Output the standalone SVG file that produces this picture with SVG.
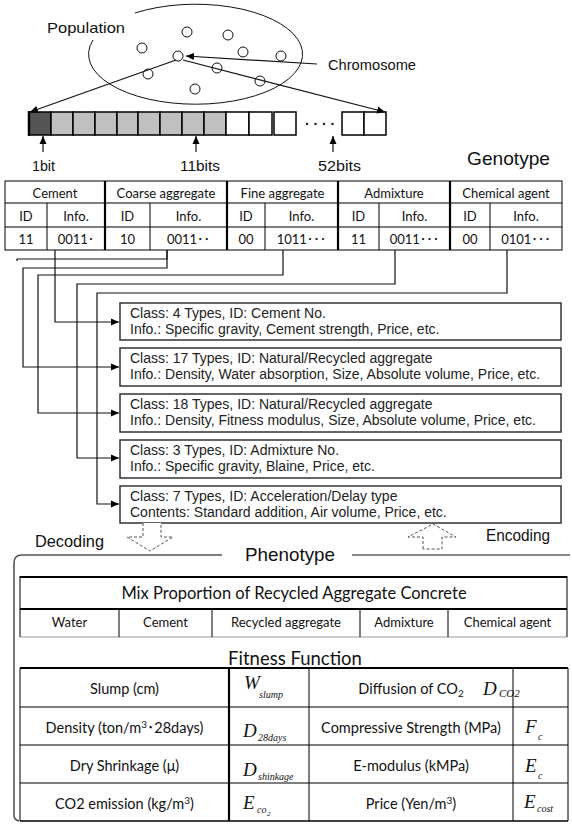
<svg xmlns="http://www.w3.org/2000/svg" width="572" height="828" viewBox="0 0 572 828">
<defs>
<marker id="ah" markerUnits="userSpaceOnUse" markerWidth="9" markerHeight="8" refX="8" refY="4" orient="auto"><path d="M0,0.5 L8,4 L0,7.5 z" fill="#000"/></marker>
<style>
.lbl{font-family:"Liberation Sans",Arial,sans-serif;fill:#111}
.cal{font-family:Lato,"Noto Sans CJK JP",sans-serif;fill:#111;text-anchor:middle}
.math{font-family:"Liberation Serif","Times New Roman",serif;font-style:italic;fill:#111}
.thin{stroke:#000;stroke-width:1;fill:none}
.thick{stroke:#000;stroke-width:2.2;fill:none}
.conn{stroke:#111;stroke-width:1.2;fill:none}
.box{fill:#fff;stroke:#333;stroke-width:1.5}
.boxtxt{font-family:"Liberation Sans",Arial,sans-serif;font-size:14px;fill:#222}
.dash{fill:#fff;stroke:#555;stroke-width:1;stroke-dasharray:3 2}
.cell{stroke:#000;stroke-width:1.5}
</style>
</defs>
<rect width="572" height="828" fill="#fff"/>

<!-- Population -->
<g id="population">
<path d="M135 13 A107 50 0 1 1 93 40" fill="none" stroke="#111" stroke-width="1"/>
<text class="lbl" x="47" y="33" font-size="15" textLength="78" lengthAdjust="spacingAndGlyphs">Population</text>
<g fill="#fff" stroke="#111" stroke-width="1">
<circle cx="187" cy="32" r="5"/><circle cx="228" cy="35" r="5"/><circle cx="142" cy="48" r="5"/>
<circle cx="178" cy="56" r="5"/><circle cx="243" cy="52" r="5"/><circle cx="281" cy="56" r="5"/>
<circle cx="148" cy="74" r="5"/><circle cx="217" cy="68" r="5"/><circle cx="260" cy="81" r="5"/>
<circle cx="195" cy="89" r="5"/>
</g>
</g>

<g id="chromosome-label">
<text class="lbl" x="328" y="70" font-size="15" textLength="88" lengthAdjust="spacingAndGlyphs">Chromosome</text>
</g>

<!-- Chromosome bar -->
<g id="bar">
<rect class="cell" x="29" y="112" width="22" height="23" fill="#555"/>
<g fill="#c0c0c0">
<rect class="cell" x="51" y="112" width="22" height="23"/>
<rect class="cell" x="73" y="112" width="22" height="23"/>
<rect class="cell" x="95" y="112" width="22" height="23"/>
<rect class="cell" x="117" y="112" width="21" height="23"/>
<rect class="cell" x="138" y="112" width="22" height="23"/>
<rect class="cell" x="160" y="112" width="22" height="23"/>
<rect class="cell" x="182" y="112" width="22" height="23"/>
<rect class="cell" x="204" y="112" width="22" height="23"/>
</g>
<g fill="#fff">
<rect class="cell" x="226" y="112" width="23" height="23"/>
<rect class="cell" x="249" y="112" width="23" height="23"/>
<rect class="cell" x="274" y="112" width="22" height="23"/>
<rect class="cell" x="342" y="112" width="22" height="23"/>
<rect class="cell" x="364" y="112" width="22" height="23"/>
</g>
<line x1="29" y1="111" x2="29" y2="136" stroke="#000" stroke-width="2.5"/>
<text class="lbl" y="129" font-size="14" font-weight="bold"><tspan x="305">·</tspan><tspan x="313.5">·</tspan><tspan x="322">·</tspan><tspan x="330.5">·</tspan></text>
</g>

<g id="bit-labels">
<text class="lbl" x="32" y="171" font-size="15" textLength="23" lengthAdjust="spacingAndGlyphs">1bit</text>
<text class="lbl" x="180" y="171" font-size="15" textLength="40" lengthAdjust="spacingAndGlyphs">11bits</text>
<text class="lbl" x="318" y="171" font-size="15" textLength="43" lengthAdjust="spacingAndGlyphs">52bits</text>
<text class="lbl" x="467" y="165" font-size="19" textLength="83" lengthAdjust="spacingAndGlyphs">Genotype</text>
</g>

<!-- Genotype table -->
<g id="genotype-table">
<rect class="thin" x="5" y="181" width="557" height="69"/>
<line class="thin" x1="5" y1="203" x2="562" y2="203"/>
<line class="thin" x1="5" y1="227" x2="562" y2="227"/>
<line class="thick" x1="105" y1="181" x2="105" y2="250"/>
<line class="thick" x1="227" y1="181" x2="227" y2="250"/>
<line class="thick" x1="338" y1="181" x2="338" y2="250"/>
<line class="thick" x1="450" y1="181" x2="450" y2="250"/>
<g class="thin">
<line x1="47" y1="203" x2="47" y2="250"/><line x1="150" y1="203" x2="150" y2="250"/>
<line x1="265" y1="203" x2="265" y2="250"/><line x1="379" y1="203" x2="379" y2="250"/>
<line x1="490" y1="203" x2="490" y2="250"/>
</g>
<g class="cal" font-size="13">
<text x="55" y="198">Cement</text><text x="166" y="198">Coarse aggregate</text>
<text x="282.5" y="198">Fine aggregate</text><text x="394" y="198">Admixture</text>
<text x="506" y="198">Chemical agent</text>
<text x="26" y="221">ID</text><text x="76" y="221">Info.</text>
<text x="127.5" y="221">ID</text><text x="188.5" y="221">Info.</text>
<text x="246" y="221">ID</text><text x="301.5" y="221">Info.</text>
<text x="358.5" y="221">ID</text><text x="414.5" y="221">Info.</text>
<text x="470" y="221">ID</text><text x="526" y="221">Info.</text>
<text x="26" y="244">11</text><text x="76" y="244">0011･</text>
<text x="127.5" y="244">10</text><text x="188.5" y="244">0011･･</text>
<text x="246" y="244">00</text><text x="301.5" y="244">1011･･･</text>
<text x="358.5" y="244">11</text><text x="414.5" y="244">0011･･･</text>
<text x="470" y="244">00</text><text x="526" y="244">0101･･･</text>
</g>
</g>

<!-- Connectors -->
<g id="connectors">
<path class="conn" d="M176 60 L30 112" marker-end="url(#ah)"/>
<path class="conn" d="M183 60 L385 112" marker-end="url(#ah)"/>
<path class="conn" d="M317 64 L186 56" marker-end="url(#ah)"/>
<path class="conn" d="M43 152 V136" marker-end="url(#ah)"/>
<path class="conn" d="M196 152 V136" marker-end="url(#ah)"/>
<path class="conn" d="M333 152 V136" marker-end="url(#ah)"/>
<path class="conn" d="M17 261 V259 H167 V250"/>
<path class="conn" d="M55 250 V322 H119" marker-end="url(#ah)"/>
<path class="conn" d="M167 250 V268 H23 V367 H119" marker-end="url(#ah)"/>
<path class="conn" d="M283 250 V275 H38 V413 H119" marker-end="url(#ah)"/>
<path class="conn" d="M395 250 V284 H77 V458 H119" marker-end="url(#ah)"/>
<path class="conn" d="M507 250 V293 H97 V504 H119" marker-end="url(#ah)"/>
</g>

<!-- Class boxes -->
<g id="box-cement">
<rect class="box" x="120" y="303" width="441" height="37"/>
<text class="boxtxt" x="130" y="318">Class: 4 Types, ID: Cement No.</text>
<text class="boxtxt" x="130" y="334">Info.: Specific gravity, Cement strength, Price, etc.</text>
</g>
<g id="box-coarse">
<rect class="box" x="120" y="348" width="441" height="38"/>
<text class="boxtxt" x="130" y="363">Class: 17 Types, ID: Natural/Recycled aggregate</text>
<text class="boxtxt" x="130" y="379">Info.: Density, Water absorption, Size, Absolute volume, Price, etc.</text>
</g>
<g id="box-fine">
<rect class="box" x="120" y="394" width="441" height="38"/>
<text class="boxtxt" x="130" y="409">Class: 18 Types, ID: Natural/Recycled aggregate</text>
<text class="boxtxt" x="130" y="425">Info.: Density, Fitness modulus, Size, Absolute volume, Price, etc.</text>
</g>
<g id="box-admixture">
<rect class="box" x="120" y="440" width="441" height="38"/>
<text class="boxtxt" x="130" y="455">Class: 3 Types, ID: Admixture No.</text>
<text class="boxtxt" x="130" y="471">Info.: Specific gravity, Blaine, Price, etc.</text>
</g>
<g id="box-chemical">
<rect class="box" x="120" y="486" width="441" height="37"/>
<text class="boxtxt" x="130" y="501">Class: 7 Types, ID: Acceleration/Delay type</text>
<text class="boxtxt" x="130" y="517">Contents: Standard addition, Air volume, Price, etc.</text>
</g>

<!-- Decoding / Encoding -->
<g id="decoding">
<path class="dash" d="M143 523 L143 537 L127 537 L150 551 L173 537 L161 537 L161 523"/>
<text class="lbl" x="35" y="547" font-size="16" textLength="69" lengthAdjust="spacingAndGlyphs">Decoding</text>
</g>
<g id="encoding">
<path class="dash" d="M423 549 L423 537 L408 537 L433 524 L456 537 L442 537 L442 549 Z"/>
<text class="lbl" x="486" y="541" font-size="16" textLength="64" lengthAdjust="spacingAndGlyphs">Encoding</text>
</g>

<!-- Phenotype bracket -->
<g id="phenotype">
<path d="M222 555 L22 555 Q14 555 14 563 L14 815 Q14 820 19 821" fill="none" stroke="#555" stroke-width="1.6"/>
<path d="M352 555 L570 555" fill="none" stroke="#111" stroke-width="1.2"/>
<text class="lbl" x="245" y="561" font-size="19" textLength="90" lengthAdjust="spacingAndGlyphs">Phenotype</text>
</g>

<!-- Mix proportion table -->
<g id="mix-table">
<line class="thick" x1="20" y1="577" x2="567" y2="577"/>
<line class="thick" x1="20" y1="609" x2="567" y2="609"/>
<line x1="20" y1="637" x2="567" y2="637" stroke="#999" stroke-width="1"/>
<line class="thin" x1="20" y1="576" x2="20" y2="637"/>
<line class="thin" x1="567" y1="576" x2="567" y2="637"/>
<g class="thin">
<line x1="119" y1="609" x2="119" y2="637"/><line x1="212" y1="609" x2="212" y2="637"/>
<line x1="360" y1="609" x2="360" y2="637"/><line x1="448" y1="609" x2="448" y2="637"/>
</g>
<text class="cal" x="294" y="599" font-size="16.5">Mix Proportion of Recycled Aggregate Concrete</text>
<g class="cal" font-size="13">
<text x="69.5" y="627">Water</text><text x="165.5" y="627">Cement</text>
<text x="286" y="627">Recycled aggregate</text><text x="404" y="627">Admixture</text>
<text x="507.5" y="627">Chemical agent</text>
</g>
</g>

<!-- Fitness function table -->
<g id="fitness-table">
<text class="cal" x="295" y="665" font-size="18.5">Fitness Function</text>
<line class="thick" x1="20" y1="668" x2="568" y2="668"/>
<line x1="20" y1="821" x2="568" y2="821" stroke="#000" stroke-width="1.6"/>
<line class="thin" x1="20" y1="668" x2="20" y2="821"/>
<line class="thin" x1="568" y1="668" x2="568" y2="821"/>
<line class="thick" x1="229" y1="668" x2="229" y2="821"/>
<line class="thin" x1="309" y1="668" x2="309" y2="821"/>
<line class="thin" x1="513" y1="668" x2="513" y2="821"/>
<line class="thin" x1="20" y1="707" x2="568" y2="707"/>
<line class="thin" x1="20" y1="745" x2="568" y2="745"/>
<line class="thin" x1="20" y1="783" x2="568" y2="783"/>
<g class="cal" font-size="14.5">
<text x="124.5" y="694">Slump (cm)</text>
<text x="124.5" y="733">Density (ton/m<tspan font-size="10" dy="-5">3</tspan><tspan dy="5">･28days)</tspan></text>
<text x="124.5" y="771">Dry Shrinkage (μ)</text>
<text x="124.5" y="809">CO2 emission (kg/m<tspan font-size="10" dy="-5">3</tspan><tspan dy="5">)</tspan></text>
<text x="411" y="694">Diffusion of CO<tspan font-size="10" dy="3">2</tspan></text>
<text x="411" y="733">Compressive Strength (MPa)</text>
<text x="411" y="771">E-modulus (kMPa)</text>
<text x="411" y="809">Price (Yen/m<tspan font-size="10" dy="-5">3</tspan><tspan dy="5">)</tspan></text>
</g>
<g class="math">
<text x="244" y="689" font-size="19">W</text><text x="259" y="698" font-size="10">slump</text>
<text x="243" y="737" font-size="19">D</text><text x="258" y="741" font-size="10">28days</text>
<text x="243" y="776" font-size="19">D</text><text x="258" y="780" font-size="10">shinkage</text>
<text x="243" y="809" font-size="19">E</text><text x="257" y="813" font-size="10">co</text><text x="267" y="816" font-size="7">2</text>
<text x="483" y="695" font-size="19">D</text><text x="499" y="697" font-size="11">CO2</text>
<text x="525" y="733" font-size="19">F</text><text x="538" y="740" font-size="10">c</text>
<text x="525" y="772" font-size="19">E</text><text x="538" y="779" font-size="10">c</text>
<text x="524" y="808" font-size="19">E</text><text x="537" y="812" font-size="10">cost</text>
</g>
</g>
</svg>
